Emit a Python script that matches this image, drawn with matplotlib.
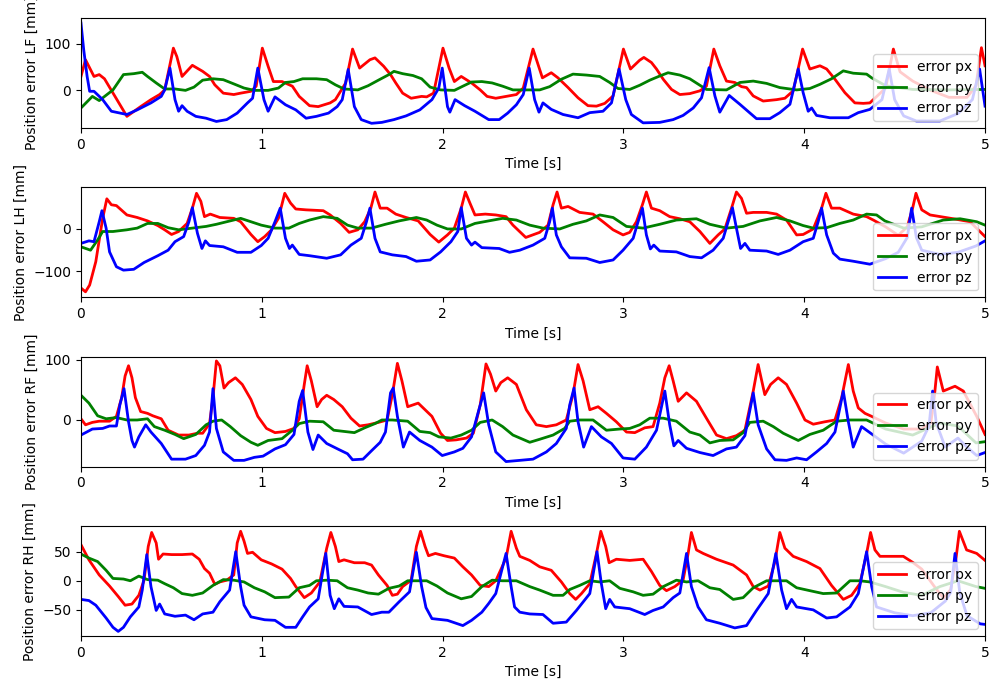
import matplotlib
matplotlib.use("Agg")
import matplotlib.pyplot as plt

# ---- LF foot ----
lf_px_t = [0, 0.025, 0.072, 0.101, 0.13, 0.254, 0.33, 0.387, 0.435, 0.463, 0.511, 0.53, 0.559, 0.616, 0.673, 0.711, 0.74, 0.787, 0.845, 0.883, 0.94, 0.969,
           1.003, 1.035, 1.064, 1.112, 1.169, 1.207, 1.264, 1.312, 1.378, 1.407, 1.464, 1.502, 1.541, 1.598, 1.626, 1.674, 1.712, 1.741, 1.779, 1.826, 1.884, 1.912, 1.95,
           2.002, 2.036, 2.065, 2.103, 2.16, 2.208, 2.246, 2.294, 2.351, 2.408, 2.446, 2.5, 2.552, 2.601, 2.638, 2.694, 2.749, 2.804, 2.851, 2.897, 2.943,
           3.0, 3.039, 3.09, 3.113, 3.155, 3.183, 3.22, 3.266, 3.312, 3.367, 3.423, 3.459, 3.5, 3.533, 3.57, 3.616, 3.653, 3.681, 3.718, 3.773, 3.847, 3.893, 3.939,
           3.991, 4.031, 4.087, 4.124, 4.17, 4.225, 4.28, 4.327, 4.363, 4.45, 4.493, 4.53, 4.6, 4.7, 4.8, 4.9, 4.95, 4.98, 5.0]
lf_px = [30, 66, 30, 34, 25, -56, -35, -20, -9, 1, 91, 73, 30, 54, 41, 30, 12, -6, -9, -6, -2, 9,
         91, 52, 19, 19, 9, -13, -33, -35, -27, -20, 16, 89, 48, 66, 70, 52, 34, 16, -6, -17, -13, -14, -6,
         91, 48, 19, 30, 16, 1, -13, -17, -13, -9, 5, 89, 27, 38, 27, 6, -16, -33, -34, -28, -12,
         89, 46, 65, 71, 60, 46, 24, 2, -9, -7, -1, 9, 89, 53, 20, 17, 8, 6, -12, -23, -20, -17, -1,
         89, 46, 53, 46, 24, -5, -27, -28, -27, 5, 89, 40, 20, 0, -15, -15, 10, 92, 53]

lf_py_t = [0, 0.063, 0.101, 0.177, 0.235, 0.292, 0.339, 0.368, 0.416, 0.463, 0.52, 0.578, 0.625, 0.673, 0.73, 0.787, 0.845, 0.902, 0.959,
           1.035, 1.092, 1.131, 1.178, 1.226, 1.302, 1.359, 1.407, 1.455, 1.531, 1.588, 1.645, 1.703, 1.731, 1.779, 1.836, 1.884, 1.931, 1.989,
           2.065, 2.112, 2.16, 2.217, 2.274, 2.332, 2.389, 2.537, 2.592, 2.657, 2.721, 2.795, 2.869, 2.924, 2.97,
           3.035, 3.09, 3.146, 3.201, 3.247, 3.312, 3.367, 3.423, 3.459, 3.57, 3.644, 3.718, 3.792, 3.865, 3.958,
           4.031, 4.087, 4.151, 4.216, 4.271, 4.345, 4.373, 4.45, 4.6, 4.8, 5.0]
lf_py = [-38, -13, -22, 1, 34, 36, 39, 30, 16, 3, 3, 0, 7, 22, 25, 23, 14, 5, 0,
         0, 5, 17, 19, 25, 25, 23, 12, 3, 1, 10, 22, 34, 41, 36, 32, 25, 7, 1,
         0, 9, 18, 19, 16, 9, 1, 1, 8, 24, 35, 33, 30, 17, 4,
         2, 11, 22, 31, 38, 33, 25, 11, 2, 1, 17, 20, 15, 6, 1,
         4, 13, 25, 42, 37, 35, 27, 10, 2, 1, 2]

lf_pz_t = [0, 0.015, 0.034, 0.048, 0.072, 0.12, 0.168, 0.254, 0.311, 0.387, 0.444, 0.463, 0.492, 0.52, 0.54, 0.559, 0.587, 0.635, 0.692, 0.749, 0.806, 0.864, 0.921, 0.949, 0.978,
           1.012, 1.035, 1.073, 1.131, 1.188, 1.245, 1.302, 1.369, 1.417, 1.445, 1.478, 1.512, 1.55, 1.607, 1.664, 1.731, 1.798, 1.874, 1.941, 1.979, 1.998,
           2.027, 2.04, 2.069, 2.122, 2.179, 2.255, 2.313, 2.36, 2.408, 2.446, 2.479, 2.509, 2.533, 2.555, 2.601, 2.666, 2.749, 2.814, 2.887, 2.934, 2.976,
           3.013, 3.044, 3.109, 3.201, 3.275, 3.33, 3.386, 3.432, 3.474, 3.506, 3.533, 3.585, 3.644, 3.736, 3.81, 3.865, 3.921, 3.967, 3.994,
           4.022, 4.041, 4.068, 4.142, 4.244, 4.299, 4.363, 4.43, 4.47, 4.5, 4.55, 4.62, 4.75, 4.85, 4.93, 4.97, 5.0]
lf_pz = [145, 88, 30, -2, -2, -20, -45, -52, -42, -27, -13, 1, 48, -20, -45, -33, -45, -56, -60, -67, -63, -49, -27, -17, 48,
         -20, -45, -14, -31, -42, -60, -56, -49, -35, -20, 45, -35, -63, -71, -69, -63, -55, -42, -20, 5, 48,
         -35, -47, -20, -33, -45, -63, -63, -49, -31, -9, 48, -20, -47, -27, -41, -52, -59, -48, -45, -27, 46,
         -20, -52, -70, -69, -63, -54, -38, -16, 49, -12, -47, -11, -30, -61, -61, -48, -30, 46, -5,
         -45, -38, -54, -59, -59, -48, -41, -20, 46, -20, -55, -66, -66, -50, -20, 46, -34]

# ---- LH foot ----
lh_px_t = [0, 0.025, 0.048, 0.082, 0.12, 0.143, 0.168, 0.196, 0.254, 0.311, 0.368, 0.425, 0.463, 0.501, 0.54, 0.587, 0.616, 0.639, 0.663, 0.683, 0.715, 0.768, 0.845, 0.883, 0.94, 0.978,
           1.016, 1.054, 1.092, 1.127, 1.159, 1.188, 1.245, 1.34, 1.378, 1.436, 1.483, 1.531, 1.569, 1.603, 1.626, 1.655, 1.693, 1.741, 1.798, 1.865, 1.931, 1.979,
           2.027, 2.065, 2.103, 2.126, 2.151, 2.179, 2.236, 2.294, 2.351, 2.389, 2.46, 2.537, 2.583, 2.611, 2.633, 2.657, 2.694, 2.758, 2.832, 2.887, 2.943, 2.998,
           3.035, 3.072, 3.105, 3.127, 3.155, 3.201, 3.256, 3.312, 3.367, 3.423, 3.478, 3.524, 3.561, 3.598, 3.625, 3.653, 3.681, 3.718, 3.792, 3.847, 3.902, 3.958, 3.994,
           4.05, 4.096, 4.12, 4.151, 4.197, 4.271, 4.345, 4.382, 4.45, 4.52, 4.57, 4.6, 4.618, 4.65, 4.696, 4.825, 4.917, 5.0]
lh_px = [-139, -148, -132, -77, 25, 71, 57, 55, 33, 27, 19, 8, -2, -13, -6, 13, 49, 84, 65, 29, 35, 27, 25, 17, -13, -30,
         -18, -2, 25, 84, 61, 47, 45, 43, 33, 13, -8, -2, 17, 49, 87, 49, 49, 35, 27, 19, -13, -31,
         -14, 2, 49, 87, 61, 33, 35, 33, 29, 9, -20, -8, 9, 57, 87, 49, 53, 39, 35, 17, -2, -14,
         -8, 17, 57, 87, 49, 43, 29, 24, 17, -6, -34, -14, 0, 49, 87, 72, 37, 39, 39, 35, 21, -14, -13,
         0, 49, 84, 49, 49, 35, 29, 21, 5, -15, 5, 50, 84, 45, 33, 24, 17, -18]

lh_py_t = [0, 0.053, 0.092, 0.12, 0.177, 0.254, 0.311, 0.368, 0.425, 0.482, 0.54, 0.616, 0.692, 0.749, 0.806, 0.883, 0.94, 0.997,
           1.073, 1.15, 1.207, 1.264, 1.34, 1.417, 1.474, 1.531, 1.607, 1.684, 1.76, 1.855, 1.912, 1.969,
           2.027, 2.103, 2.179, 2.255, 2.332, 2.408, 2.482, 2.555, 2.648, 2.721, 2.795, 2.869, 2.943,
           3.017, 3.109, 3.201, 3.293, 3.404, 3.478, 3.57, 3.662, 3.755, 3.847, 3.921, 3.994,
           4.05, 4.124, 4.197, 4.271, 4.345, 4.4, 4.446, 4.55, 4.65, 4.769, 4.862, 4.954, 5.0]
lh_py = [-42, -50, -26, -6, -6, -2, 2, 13, 13, 3, -2, 2, 6, 11, 17, 25, 17, 9,
         2, 2, 13, 21, 29, 25, 9, 2, 2, 11, 19, 27, 21, 9,
         0, 0, 13, 19, 25, 21, 9, 2, 0, 11, 19, 33, 27,
         6, 2, 11, 21, 24, 11, 2, 6, 19, 27, 19, 8,
         2, 3, 13, 21, 35, 33, 19, 2, 5, 21, 24, 17, 9]

lh_pz_t = [0, 0.044, 0.072, 0.101, 0.116, 0.139, 0.158, 0.196, 0.235, 0.292, 0.349, 0.425, 0.482, 0.52, 0.568, 0.597, 0.616, 0.644, 0.669, 0.688, 0.711, 0.787, 0.864, 0.94, 0.997,
           1.035, 1.073, 1.102, 1.131, 1.153, 1.169, 1.207, 1.264, 1.359, 1.436, 1.493, 1.55, 1.579, 1.598, 1.626, 1.655, 1.722, 1.798, 1.855, 1.931, 1.989,
           2.046, 2.084, 2.103, 2.132, 2.16, 2.179, 2.217, 2.313, 2.37, 2.427, 2.5, 2.565, 2.592, 2.607, 2.629, 2.657, 2.703, 2.795, 2.869, 2.943, 2.998,
           3.054, 3.081, 3.105, 3.127, 3.149, 3.168, 3.201, 3.293, 3.367, 3.432, 3.496, 3.552, 3.579, 3.603, 3.625, 3.648, 3.672, 3.699, 3.792, 3.856, 3.921, 3.994,
           4.05, 4.077, 4.096, 4.124, 4.161, 4.197, 4.271, 4.363, 4.45, 4.52, 4.57, 4.594, 4.62, 4.65, 4.75, 4.85, 4.95, 5.0]
lh_pz = [-34, -28, -30, 17, 43, 2, -54, -89, -97, -95, -79, -63, -50, -30, -18, 17, 50, -10, -46, -28, -39, -42, -55, -55, -39,
         -22, 17, 49, -22, -46, -38, -60, -63, -69, -61, -38, -22, 17, 49, -22, -54, -61, -65, -76, -73, -54,
         -30, -6, 50, -22, -38, -31, -44, -46, -55, -50, -38, -22, 17, 49, -14, -42, -68, -69, -79, -73, -50,
         -22, 17, 49, -14, -47, -38, -52, -54, -65, -68, -50, -22, 17, 50, 2, -46, -34, -50, -52, -60, -50, -30,
         -22, 17, 49, -14, -57, -71, -76, -83, -70, -55, -20, 49, -20, -50, -60, -55, -40, -28]

# ---- RF foot ----
rf_px_t = [0, 0.025, 0.063, 0.101, 0.158, 0.196, 0.225, 0.244, 0.263, 0.282, 0.301, 0.33, 0.368, 0.397, 0.444, 0.482, 0.54, 0.597, 0.644, 0.673, 0.711, 0.73, 0.749, 0.768, 0.791, 0.816, 0.854, 0.892, 0.94, 0.978,
           1.026, 1.073, 1.131, 1.178, 1.207, 1.235, 1.251, 1.274, 1.306, 1.331, 1.359, 1.398, 1.445, 1.493, 1.541, 1.588, 1.645, 1.693, 1.722, 1.75, 1.775, 1.807, 1.865, 1.903, 1.941, 1.989,
           2.027, 2.074, 2.132, 2.17, 2.208, 2.24, 2.265, 2.294, 2.322, 2.36, 2.408, 2.463, 2.518, 2.574, 2.629, 2.684, 2.721, 2.749, 2.777, 2.814, 2.86, 2.906, 2.961,
           3.017, 3.063, 3.118, 3.164, 3.201, 3.229, 3.253, 3.275, 3.303, 3.349, 3.404, 3.459, 3.515, 3.57, 3.625, 3.672, 3.718, 3.745, 3.782, 3.814, 3.856, 3.902, 3.958,
           4.004, 4.05, 4.114, 4.17, 4.207, 4.244, 4.271, 4.299, 4.336, 4.373, 4.45, 4.55, 4.65, 4.7, 4.72, 4.736, 4.769, 4.834, 4.88, 4.954, 5.0]
rf_px = [2, -8, -4, -2, -2, 6, 37, 73, 90, 70, 37, 14, 11, 7, 2, -17, -25, -25, -22, -22, -6, 37, 98, 90, 53, 62, 70, 59, 34, 6,
         -14, -21, -19, -14, 2, 59, 90, 65, 22, 34, 41, 34, 22, 3, -10, -8, -4, 0, 42, 94, 65, 22, 28, 17, 6, -22,
         -34, -33, -30, -22, 25, 93, 76, 48, 62, 70, 59, 17, -8, -11, -8, 0, 42, 92, 65, 17, 22, 11, -3,
         -20, -21, -13, -11, 28, 70, 90, 65, 31, 45, 31, 3, -25, -31, -26, -17, 48, 92, 42, 59, 70, 59, 28,
         0, -7, -3, 0, 37, 92, 48, 20, 11, 6, -5, -15, -15, -5, 40, 88, 48, 56, 48, 6, -24]

rf_py_t = [0, 0.044, 0.092, 0.139, 0.196, 0.254, 0.311, 0.368, 0.406, 0.463, 0.52, 0.568, 0.635, 0.692, 0.73, 0.778, 0.826, 0.883, 0.94, 0.978,
           1.035, 1.112, 1.169, 1.207, 1.264, 1.34, 1.398, 1.455, 1.512, 1.569, 1.626, 1.664, 1.722, 1.807, 1.874, 1.931, 1.979,
           2.046, 2.103, 2.16, 2.208, 2.274, 2.332, 2.389, 2.482, 2.537, 2.611, 2.675, 2.703, 2.758, 2.832, 2.906, 2.98,
           3.035, 3.09, 3.146, 3.22, 3.293, 3.367, 3.423, 3.478, 3.533, 3.607, 3.662, 3.699, 3.773, 3.829, 3.884, 3.967,
           4.031, 4.105, 4.179, 4.253, 4.345, 4.45, 4.6, 4.75, 4.85, 4.95, 5.0]
rf_py = [41, 28, 7, 2, 4, 0, 0, 2, -11, -17, -24, -31, -24, -8, -2, 0, -11, -26, -37, -42,
         -34, -31, -17, -6, -2, -3, -17, -19, -21, -13, -6, 0, 0, -2, -19, -21, -28,
         -30, -25, -17, -4, 0, -11, -25, -37, -32, -25, -14, -2, 0, 0, -17, -15,
         -14, -8, 3, 3, -2, -20, -25, -38, -34, -33, -21, -4, -2, -11, -22, -34,
         -24, -17, -2, 0, 0, -15, -25, -5, -10, -38, -36]

rf_pz_t = [0, 0.063, 0.12, 0.158, 0.196, 0.215, 0.238, 0.263, 0.282, 0.296, 0.32, 0.358, 0.387, 0.444, 0.501, 0.578, 0.635, 0.683, 0.711, 0.73, 0.749, 0.787, 0.845, 0.902, 0.959,
           1.007, 1.073, 1.131, 1.178, 1.207, 1.226, 1.255, 1.283, 1.312, 1.359, 1.426, 1.474, 1.502, 1.56, 1.607, 1.655, 1.684, 1.712, 1.727, 1.75, 1.783, 1.817, 1.874, 1.941, 1.998,
           2.065, 2.112, 2.16, 2.198, 2.227, 2.255, 2.294, 2.351, 2.427, 2.5, 2.574, 2.629, 2.684, 2.703, 2.727, 2.749, 2.78, 2.823, 2.878, 2.934, 2.998,
           3.063, 3.127, 3.183, 3.229, 3.256, 3.279, 3.303, 3.349, 3.423, 3.496, 3.57, 3.625, 3.672, 3.718, 3.745, 3.792, 3.838, 3.902, 3.958,
           4.013, 4.068, 4.124, 4.17, 4.216, 4.244, 4.271, 4.317, 4.363, 4.45, 4.55, 4.65, 4.69, 4.71, 4.73, 4.78, 4.85, 4.9, 4.954, 5.0]
rf_pz = [-25, -15, -14, -10, -10, 25, 52, -3, -34, -45, -28, -8, -20, -39, -65, -65, -59, -42, -20, 52, -14, -53, -67, -67, -62,
         -60, -48, -41, -24, 31, 49, -20, -49, -25, -39, -49, -56, -66, -65, -51, -37, -20, 45, 53, 6, -45, -20, -34, -45, -59,
         -53, -47, -28, 14, 45, -8, -53, -69, -67, -65, -53, -39, -14, 25, 53, -3, -45, -11, -28, -39, -63,
         -65, -45, -17, 48, -8, -43, -34, -47, -54, -59, -48, -45, -26, 45, -8, -48, -66, -67, -63,
         -66, -53, -39, -20, 48, -3, -45, -11, -21, -40, -55, -35, -10, 48, -5, -45, -30, -45, -59, -54]

# ---- RH foot ----
rh_px_t = [0, 0.044, 0.101, 0.158, 0.206, 0.244, 0.282, 0.32, 0.349, 0.372, 0.391, 0.416, 0.429, 0.454, 0.501, 0.559, 0.616, 0.654, 0.683, 0.711, 0.74, 0.768, 0.806, 0.845, 0.864, 0.883, 0.902, 0.921, 0.949, 0.997,
           1.054, 1.112, 1.159, 1.188, 1.235, 1.274, 1.321, 1.359, 1.382, 1.407, 1.426, 1.455, 1.512, 1.569, 1.607, 1.645, 1.693, 1.722, 1.75, 1.779, 1.826, 1.855, 1.878, 1.903, 1.922, 1.96,
           2.008, 2.065, 2.112, 2.16, 2.208, 2.255, 2.294, 2.351, 2.379, 2.408, 2.427, 2.482, 2.537, 2.601, 2.657, 2.703, 2.736, 2.768, 2.814, 2.851, 2.875, 2.902, 2.921, 2.961,
           3.035, 3.109, 3.155, 3.201, 3.238, 3.284, 3.33, 3.358, 3.376, 3.404, 3.441, 3.515, 3.607, 3.681, 3.718, 3.755, 3.801, 3.838, 3.865, 3.893, 3.939,
           4.013, 4.087, 4.151, 4.216, 4.262, 4.308, 4.345, 4.367, 4.391, 4.419, 4.474, 4.548, 4.603, 4.65, 4.72, 4.77, 4.81, 4.84, 4.858, 4.898, 4.954, 5.0]
rh_px = [62, 36, 10, -9, -27, -42, -40, -25, 1, 59, 83, 65, 37, 46, 45, 45, 46, 37, 21, 13, -6, -2, 1, 10, 65, 85, 68, 47, 49, 36,
         29, 20, 4, -10, -29, -21, -2, 56, 83, 59, 33, 36, 31, 31, 27, 10, -8, -25, -23, -10, 1, 59, 85, 59, 43, 47,
         43, 39, 24, 10, -8, -10, 0, 39, 85, 56, 42, 35, 24, 18, -2, -22, -32, -22, -5, 47, 85, 59, 31, 37,
         35, 37, 16, -8, -17, -10, 1, 47, 83, 53, 47, 37, 27, 10, -10, -16, -9, 33, 83, 56, 42,
         33, 21, -8, -32, -25, -5, 47, 83, 53, 42, 42, 42, 31, 20, -10, -30, -15, 40, 85, 53, 47, 35]

rh_py_t = [0, 0.044, 0.092, 0.139, 0.177, 0.235, 0.273, 0.32, 0.368, 0.425, 0.463, 0.511, 0.559, 0.616, 0.673, 0.73, 0.787, 0.845, 0.902, 0.959,
           1.016, 1.073, 1.15, 1.207, 1.264, 1.302, 1.359, 1.417, 1.474, 1.531, 1.588, 1.645, 1.703, 1.76, 1.807, 1.855, 1.912, 1.969,
           2.027, 2.103, 2.16, 2.217, 2.274, 2.332, 2.408, 2.482, 2.537, 2.611, 2.666, 2.703, 2.758, 2.814, 2.869, 2.924, 2.98,
           3.054, 3.109, 3.164, 3.22, 3.293, 3.349, 3.413, 3.478, 3.533, 3.607, 3.662, 3.718, 3.792, 3.847, 3.902, 3.958,
           4.031, 4.105, 4.179, 4.253, 4.308, 4.363, 4.45, 4.55, 4.65, 4.75, 4.85, 4.95, 5.0]
rh_py = [46, 39, 33, 18, 4, 3, 0, 8, 2, 1, -5, -12, -22, -25, -21, -8, 2, 1, -2, -12,
         -19, -29, -28, -12, -8, 0, 1, 0, -12, -16, -21, -23, -13, -9, 0, 0, 0, -9,
         -21, -31, -27, -10, 1, 0, 0, -10, -16, -25, -25, -15, -8, 0, -2, 0, -13,
         -19, -25, -23, -10, 1, -2, 0, -12, -15, -32, -29, -12, 0, 0, 0, -12,
         -17, -22, -21, 0, 0, -2, -10, -20, -25, -10, 0, -10, -13]

rh_pz_t = [0, 0.044, 0.082, 0.139, 0.177, 0.206, 0.235, 0.273, 0.32, 0.339, 0.364, 0.387, 0.416, 0.435, 0.463, 0.52, 0.578, 0.625, 0.673, 0.73, 0.768, 0.822, 0.856, 0.883, 0.902, 0.94,
           1.016, 1.073, 1.131, 1.188, 1.226, 1.264, 1.312, 1.354, 1.378, 1.401, 1.426, 1.455, 1.531, 1.607, 1.664, 1.703, 1.76, 1.817, 1.855, 1.884, 1.908, 1.941,
           2.027, 2.112, 2.16, 2.217, 2.255, 2.294, 2.351, 2.379, 2.398, 2.427, 2.482, 2.555, 2.611, 2.684, 2.74, 2.814, 2.854, 2.878, 2.902, 2.924, 2.952,
           3.035, 3.118, 3.164, 3.22, 3.275, 3.312, 3.349, 3.376, 3.413, 3.459, 3.533, 3.616, 3.681, 3.736, 3.801, 3.843, 3.875, 3.902, 3.93, 3.958,
           4.05, 4.124, 4.179, 4.253, 4.299, 4.345, 4.373, 4.4, 4.5, 4.6, 4.7, 4.78, 4.81, 4.834, 4.86, 4.9, 4.973, 5.0]
rh_pz = [-32, -34, -42, -64, -80, -87, -80, -62, -45, -16, 45, -10, -51, -40, -57, -61, -59, -67, -57, -54, -36, -16, 50, -10, -42, -62,
         -67, -68, -80, -80, -62, -45, -31, 47, -25, -48, -31, -44, -45, -58, -54, -54, -36, -19, 49, -10, -46, -65,
         -68, -77, -68, -54, -39, -22, 47, -10, -45, -54, -57, -58, -73, -71, -51, -22, 50, -5, -48, -32, -45,
         -48, -58, -51, -45, -29, -21, 47, -10, -45, -67, -73, -81, -77, -51, -22, 47, -16, -48, -32, -45,
         -50, -64, -62, -45, -22, 50, -10, -45, -55, -60, -55, -35, -20, 47, -20, -60, -74, -75]

feet = ['LF', 'LH', 'RF', 'RH']
series = [
    [(lf_px_t, lf_px), (lf_py_t, lf_py), (lf_pz_t, lf_pz)],
    [(lh_px_t, lh_px), (lh_py_t, lh_py), (lh_pz_t, lh_pz)],
    [(rf_px_t, rf_px), (rf_py_t, rf_py), (rf_pz_t, rf_pz)],
    [(rh_px_t, rh_px), (rh_py_t, rh_py), (rh_pz_t, rh_pz)],
]
ylims = [(-81, 156), (-161, 98), (-77.5, 105), (-95, 94)]
labels = ['error px', 'error py', 'error pz']
colors = ['r', 'g', 'b']

fig, axes = plt.subplots(4, 1, figsize=(9.96, 6.81), dpi=100)
fig.subplots_adjust(left=0.0813, right=0.989, top=0.9736, bottom=0.066, hspace=0.54)

for ax, foot, data, yl in zip(axes, feet, series, ylims):
    for (t, v), lab, c in zip(data, labels, colors):
        ax.plot(t, v, color=c, linewidth=2, label=lab)
    ax.set_xlim(0, 5)
    ax.set_ylim(*yl)
    ax.set_xlabel('Time [s]')
    ax.set_ylabel('Position error ' + foot + ' [mm]')
    ax.legend(loc='lower right')

fig.savefig('out.png', dpi=100)
